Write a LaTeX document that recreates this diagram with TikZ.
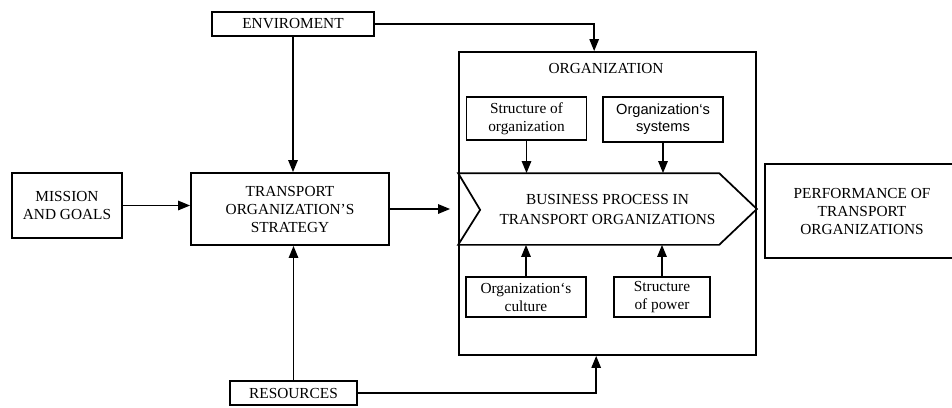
\documentclass[tikz,border=0pt]{standalone}
\usepackage{fontspec}
\setmainfont{Liberation Serif}
\setsansfont{Liberation Sans}
\usetikzlibrary{arrows.meta,positioning,calc}

\begin{document}
\begin{tikzpicture}[x=0.75pt,y=-0.75pt,>={Triangle[length=9pt,width=7pt]},
  line width=1.3pt,font=\fontsize{11.5}{13.5}\selectfont,
  blk/.style={draw,rectangle,align=center,inner sep=1pt},
  sub/.style={blk,minimum width=90pt,minimum height=31pt}]
\useasboundingbox (0,0) rectangle (952,407);
\clip (0,0) rectangle (952,407);
\node[blk,minimum width=121.5pt,minimum height=18pt](env) at (293,24) {ENVIROMENT};
\node[blk,minimum width=148.5pt,minimum height=54pt](strat) at (290,209) {TRANSPORT\\ORGANIZATION'S\\STRATEGY};
\node[blk,minimum width=82.5pt,minimum height=48.75pt](mission) at (67,205.5) {MISSION\\AND GOALS};
\node[blk,minimum width=95.25pt,minimum height=18pt](res) at (293.5,393) {RESOURCES};
\node[blk,minimum width=222.75pt,minimum height=227.25pt](org) at (607.5,203.5) {};
\node(orgtitle) at (606,68) {ORGANIZATION};
\node[sub,minimum height=32.25pt](sorg) at (526.5,118.5) {Structure of\\organization};
\node[sub,minimum height=33.75pt,font=\fontsize{11}{13}\sffamily](osys) at (663,119.5) {Organization`s\\systems};
\node[minimum width=222.75pt,minimum height=52.5pt,align=center,inner sep=0pt,font=\fontsize{11.5}{15}\selectfont](bp) at (607.5,209) {BUSINESS PROCESS IN\\TRANSPORT ORGANIZATIONS};
\draw (bp.north west) -- ++(261,0) -- (bp.east) -- ($(bp.south west)+(261,0)$) -- (bp.south west) -- ++(22,-35) -- cycle;
\node[sub,minimum height=30pt](cult) at (526,297) {Organization`s\\culture};
\node[sub,minimum width=72pt,minimum height=30pt](spw) at (662,297) {Structure\\of power};
\node[blk,minimum width=146pt,minimum height=70.5pt](perf) at (862,211) {PERFORMANCE OF\\TRANSPORT\\ORGANIZATIONS};
% links
\draw[->] (env) -- (env |- strat.north);
\draw[->] (env) -| ([xshift=-10pt]org.north);
\draw[->] (mission) -- (mission -| strat.west);
\draw[->] (res) -- (res |- strat.south);
\draw[->] (res) -| ([xshift=-8.5pt]org.south);
\draw[->,shorten >=6pt] (strat.east) -- (strat.east -| org.west);
\draw[->] (sorg) -- (sorg |- bp.north);
\draw[->] (osys) -- (osys |- bp.north);
\draw[->] (cult) -- (cult |- bp.south);
\draw[->] (spw) -- (spw |- bp.south);
\end{tikzpicture}
\end{document}
